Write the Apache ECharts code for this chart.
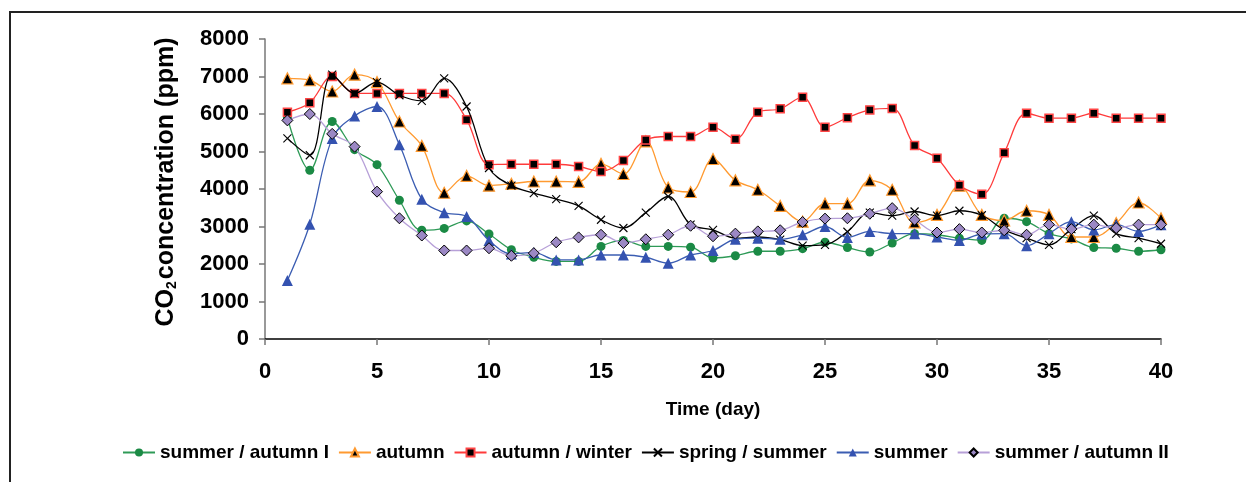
<!DOCTYPE html>
<html>
<head>
<meta charset="utf-8">
<script src="https://cdn.jsdelivr.net/npm/echarts@6/dist/echarts.min.js"></script>
<style>
html,body{margin:0;padding:0;background:#fff;overflow:hidden;width:1246px;height:482px;}
#frame{position:absolute;left:9px;top:11px;width:1400px;height:700px;border:2px solid #222;box-sizing:border-box;}
#chart{position:absolute;left:0;top:0;width:1246px;height:482px;}
</style>
</head>
<body>
<div id="frame"></div>
<div id="chart"></div>
<script>
var days = [1,2,3,4,5,6,7,8,9,10,11,12,13,14,15,16,17,18,19,20,21,22,23,24,25,26,27,28,29,30,31,32,33,34,35,36,37,38,39,40];
var summerAutumnI = [5900,4500,5800,5050,4650,3700,2900,2950,3150,2800,2380,2180,2070,2070,2470,2630,2470,2470,2450,2160,2220,2340,2340,2410,2580,2440,2320,2560,2810,2780,2690,2630,3220,3130,2810,2670,2440,2420,2340,2380];
var autumn = [6950,6900,6600,7050,6850,5800,5150,3900,4350,4090,4140,4200,4200,4190,4670,4400,5270,4040,3920,4800,4230,3980,3550,3130,3610,3610,4230,3980,3110,3310,4090,3310,3160,3420,3310,2720,2720,3090,3640,3220];
var autumnWinter = [6050,6300,7000,6550,6550,6550,6550,6550,5850,4650,4660,4660,4660,4600,4470,4760,5310,5400,5400,5650,5330,6050,6140,6450,5650,5900,6110,6150,5160,4820,4100,3860,4970,6020,5890,5890,6020,5890,5890,5890];
var springSummer = [5350,4900,7050,6550,6850,6500,6350,6950,6200,4560,4090,3890,3730,3550,3180,2960,3370,3800,3050,2910,2690,2720,2650,2490,2510,2860,3370,3290,3400,3290,3420,3300,2910,2690,2510,2930,3290,2810,2690,2540];
var summer = [1560,3060,5350,5950,6200,5180,3730,3370,3270,2630,2270,2310,2110,2110,2240,2240,2180,2020,2240,2360,2660,2690,2660,2780,3000,2710,2870,2810,2810,2720,2630,2800,2810,2490,2810,3130,2910,3050,2870,3050];
var summerAutumnII = [5830,6000,5470,5130,3930,3220,2760,2360,2360,2420,2220,2290,2580,2710,2780,2560,2660,2780,3020,2740,2810,2870,2900,3120,3210,3220,3340,3490,3180,2840,2930,2840,2900,2780,3050,2930,3050,2960,3050,3050];
var seriesNames = ['summer / autumn I','autumn','autumn / winter','spring / summer','summer','summer / autumn II'];
var xTicks = [0,5,10,15,20,25,30,35,40];
var yTicks = [0,1000,2000,3000,4000,5000,6000,7000,8000];

var FONT = '"Liberation Sans", Arial, sans-serif';
function pairs(vals){ return days.map(function(d,i){ return [d, vals[i]]; }); }

var styles = [
  {data: summerAutumnI, line:'#2e9a57', symbol:'circle', size:9, fill:'#1b8a45', border:'#1b8a45', bw:0},
  {data: autumn, line:'#ff9a30', symbol:'triangle', size:11, fill:'#000', border:'#ff9a30', bw:1.2},
  {data: autumnWinter, line:'#ff3b3b', symbol:'rect', size:8, fill:'#000', border:'#ff4545', bw:1.5},
  {data: springSummer, line:'#000', symbol:'path://M0,0L10,10M10,0L0,10', size:8, fill:'none', border:'#000', bw:1.1},
  {data: summer, line:'#3b5db2', symbol:'triangle', size:11, fill:'#3452b0', border:'#3452b0', bw:0},
  {data: summerAutumnII, line:'#b7a0d8', symbol:'diamond', size:11, fill:'#9b88c4', border:'#000', bw:1}
];

var series = styles.map(function(s, i){
  return {
    name: seriesNames[i],
    type: 'line',
    data: pairs(s.data),
    smooth: 0.35,
    symbol: s.symbol,
    symbolSize: s.size,
    showAllSymbol: true,
    lineStyle: {color: s.line, width: 1.3},
    itemStyle: {color: s.fill, borderColor: s.border, borderWidth: s.bw},
    emphasis: {disabled: true},
    animation: false,
    z: 2 + i
  };
});

var chart = echarts.init(document.getElementById('chart'));
chart.setOption({
  animation: false,
  backgroundColor: 'transparent',
  grid: {left: 265, top: 39, width: 896, height: 300, containLabel: false},
  legend: {
    left: 117, top: 438,
    itemWidth: 32, itemHeight: 10, itemGap: 9,
    textStyle: {fontFamily: FONT, fontWeight: 'bold', fontSize: 19, color: '#000'},
    data: seriesNames
  },
  xAxis: {
    type: 'value', min: xTicks[0], max: xTicks[xTicks.length-1], interval: 5,
    name: 'Time (day)', nameLocation: 'middle', nameGap: 61,
    nameTextStyle: {fontFamily: FONT, fontWeight: 'bold', fontSize: 19, color: '#000'},
    axisLine: {lineStyle: {color: '#000', width: 1.5}},
    axisTick: {show: true, length: 6, lineStyle: {color: '#777', width: 1.5}},
    axisLabel: {fontFamily: FONT, fontWeight: 'bold', fontSize: 22, color: '#000', margin: 22},
    splitLine: {show: false}
  },
  yAxis: {
    type: 'value', min: yTicks[0], max: yTicks[yTicks.length-1], interval: 1000,
    name: '{a|CO}{s|2}{a|concentration (ppm)}', nameLocation: 'middle', nameGap: 86, nameRotate: 90,
    nameTextStyle: {
      color: '#000',
      padding: [0, 0, 0, 14],
      rich: {
        a: {fontFamily: FONT, fontWeight: 'bold', fontSize: 25, color: '#000', lineHeight: 28, verticalAlign: 'bottom'},
        s: {fontFamily: FONT, fontWeight: 'bold', fontSize: 14, color: '#000', lineHeight: 28, verticalAlign: 'bottom', padding: [0,2,0,0]}
      }
    },
    axisLine: {show: true, lineStyle: {color: '#777', width: 1.5}},
    axisTick: {show: true, length: 6, lineStyle: {color: '#777', width: 1.5}},
    axisLabel: {fontFamily: FONT, fontWeight: 'bold', fontSize: 22, color: '#000', margin: 16,
      formatter: function(v){ return String(v); }},
    splitLine: {show: false}
  },
  series: series
});
</script>
</body>
</html>
